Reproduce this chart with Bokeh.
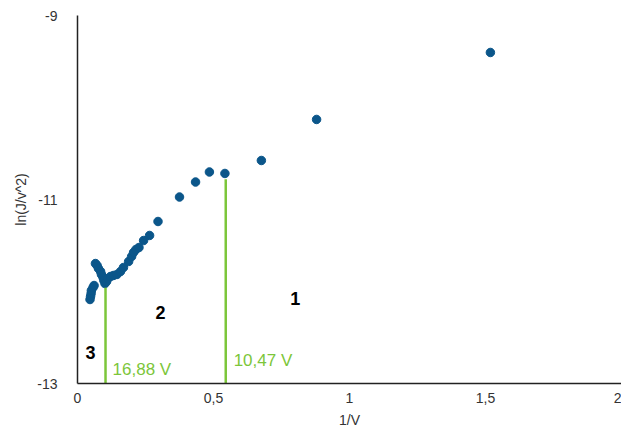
from bokeh.plotting import figure
from bokeh.models import ColumnDataSource, FixedTicker
from bokeh.core.properties import value
from bokeh.embed import file_html
from bokeh.resources import INLINE

# data: 1/V vs ln(J/V^2)
inv_v = [0.046, 0.048, 0.050, 0.051, 0.057, 0.061,
         0.066, 0.072, 0.077, 0.085, 0.088, 0.094, 0.097, 0.101,
         0.107, 0.112, 0.121, 0.132, 0.145, 0.158, 0.169, 0.188,
         0.199, 0.206, 0.215, 0.226, 0.243, 0.265, 0.296, 0.375,
         0.434, 0.485, 0.542, 0.676, 0.879, 1.518]
ln_j = [-12.087, -12.054, -12.022, -11.989, -11.957, -11.935,
        -11.696, -11.717, -11.750, -11.783, -11.815, -11.848, -11.880, -11.913,
        -11.891, -11.859, -11.837, -11.826, -11.815, -11.783, -11.739, -11.674,
        -11.620, -11.576, -11.543, -11.522, -11.446, -11.391, -11.239, -10.973,
        -10.810, -10.701, -10.717, -10.576, -10.130, -9.402]

# vertical threshold lines
vline_x = [0.103, 0.545]
vline_top = [-11.96, -10.78]
vline_labels = ["16,88 V", "10,47 V"]
vlabel_x = [0.129, 0.574]
vlabel_y = [-12.85, -12.75]

# region numbers
region_labels = ["1", "2", "3"]
region_x = [0.801, 0.305, 0.048]
region_y = [-12.076, -12.228, -12.663]

x_ticks = [0, 0.5, 1, 1.5, 2]
x_tick_labels = ["0", "0,5", "1", "1,5", "2"]
y_ticks = [-13, -11, -9]
y_tick_labels = ["-13", "-11", "-9"]

FONT = "Liberation Sans"
GREEN = "#7cc63a"
BLUE = "#0b568a"

p = figure(width=621, height=432, x_range=(0, 2), y_range=(-13, -9),
           output_backend="svg", toolbar_location=None,
           min_border_left=77, min_border_right=0, min_border_top=15,
           min_border_bottom=49)
p.outline_line_color = None
p.grid.visible = False
p.background_fill_color = "white"
p.border_fill_color = "white"

p.xaxis.ticker = FixedTicker(ticks=x_ticks)
p.xaxis.major_label_overrides = {t: l for t, l in zip(x_ticks, x_tick_labels)}
p.yaxis.ticker = FixedTicker(ticks=y_ticks)
p.yaxis.major_label_overrides = {t: l for t, l in zip(y_ticks, y_tick_labels)}

for ax in (p.xaxis, p.yaxis):
    ax.major_tick_line_color = None
    ax.minor_tick_line_color = None
    ax.major_tick_in = 0
    ax.major_tick_out = 0
    ax.axis_line_color = "#222222"
    ax.axis_line_width = 1.5
    ax.major_label_text_font = FONT
    ax.major_label_text_font_size = "14px"
    ax.major_label_text_color = "#333333"
    ax.axis_label_text_font = FONT
    ax.axis_label_text_font_size = "14px"
    ax.axis_label_text_font_style = "normal"
    ax.axis_label_text_color = "#333333"

p.xaxis.axis_label = "1/V"
p.yaxis.axis_label = "ln(J/v^2)"
p.xaxis.major_label_standoff = 9
p.yaxis.major_label_standoff = 20
p.xaxis.axis_label_standoff = 6
p.yaxis.axis_label_standoff = 5

src = ColumnDataSource(dict(x=inv_v, y=ln_j))
p.scatter("x", "y", source=src, size=8.5, fill_color=BLUE, line_color=BLUE)

p.segment(x0=vline_x, y0=[-13] * len(vline_x), x1=vline_x, y1=vline_top,
          line_color=GREEN, line_width=2.5)

p.text(x=vlabel_x, y=vlabel_y, text=vline_labels, text_font=value(FONT),
       text_font_size="17px", text_color=GREEN, text_align="left",
       text_baseline="middle")

p.text(x=region_x, y=region_y, text=region_labels, text_font=value(FONT),
       text_font_size="18px", text_font_style="bold", text_color="black",
       text_align="center", text_baseline="middle")

open("out.html", "w").write(file_html(p, INLINE))
